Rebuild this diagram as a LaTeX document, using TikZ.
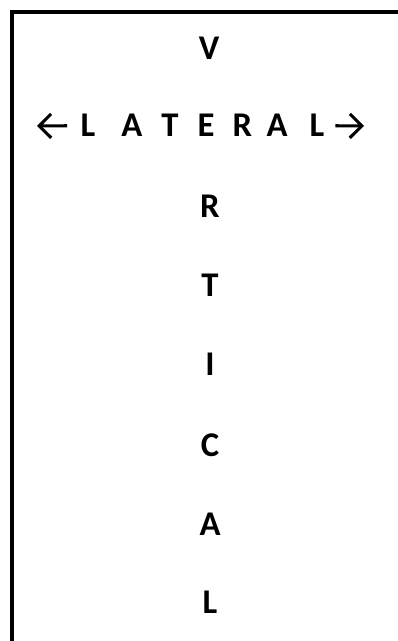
\documentclass[tikz,border=0pt]{standalone}
\usepackage{fontspec}
\setmainfont{Carlito}
\usetikzlibrary{arrows.meta}
\tikzset{letter/.style={font=\bfseries\fontsize{26}{28}\selectfont,inner sep=0pt,anchor=base}}

\begin{document}
\begin{tikzpicture}[x=0.75pt,y=-0.75pt,line join=miter]
\useasboundingbox (0,0) rectangle (398,641);
% --- frame: top and left only
\draw[line width=3pt] (12,641) -- (12,12) -- (398,12);
% --- vertical word
\node[letter] (vV) at (209,60) {V};
\foreach \ch/\y [count=\i] in {R/218,T/296,I/375,C/456,A/535,L/613}
  \node[letter] (v\i) at (210,\y) {\ch};
% --- lateral word, E shared with the column
\foreach \ch/\x [count=\i] in {L/88,A/132,T/170,E/206,R/242.5,A/277,L/317}
  \node[letter] (lat\i) at (\x,137) {\ch};
\coordinate (leftend) at (37,126);
\coordinate (rightend) at (364,126);
\draw[line width=2.3pt,-{Straight Barb[length=9pt,width=18pt]}] ([xshift=-10pt]lat1.west) -- (leftend);
\draw[line width=2.3pt,-{Straight Barb[length=9pt,width=18pt]}] ([xshift=8pt]lat7.east) -- (rightend);
\end{tikzpicture}
\end{document}
